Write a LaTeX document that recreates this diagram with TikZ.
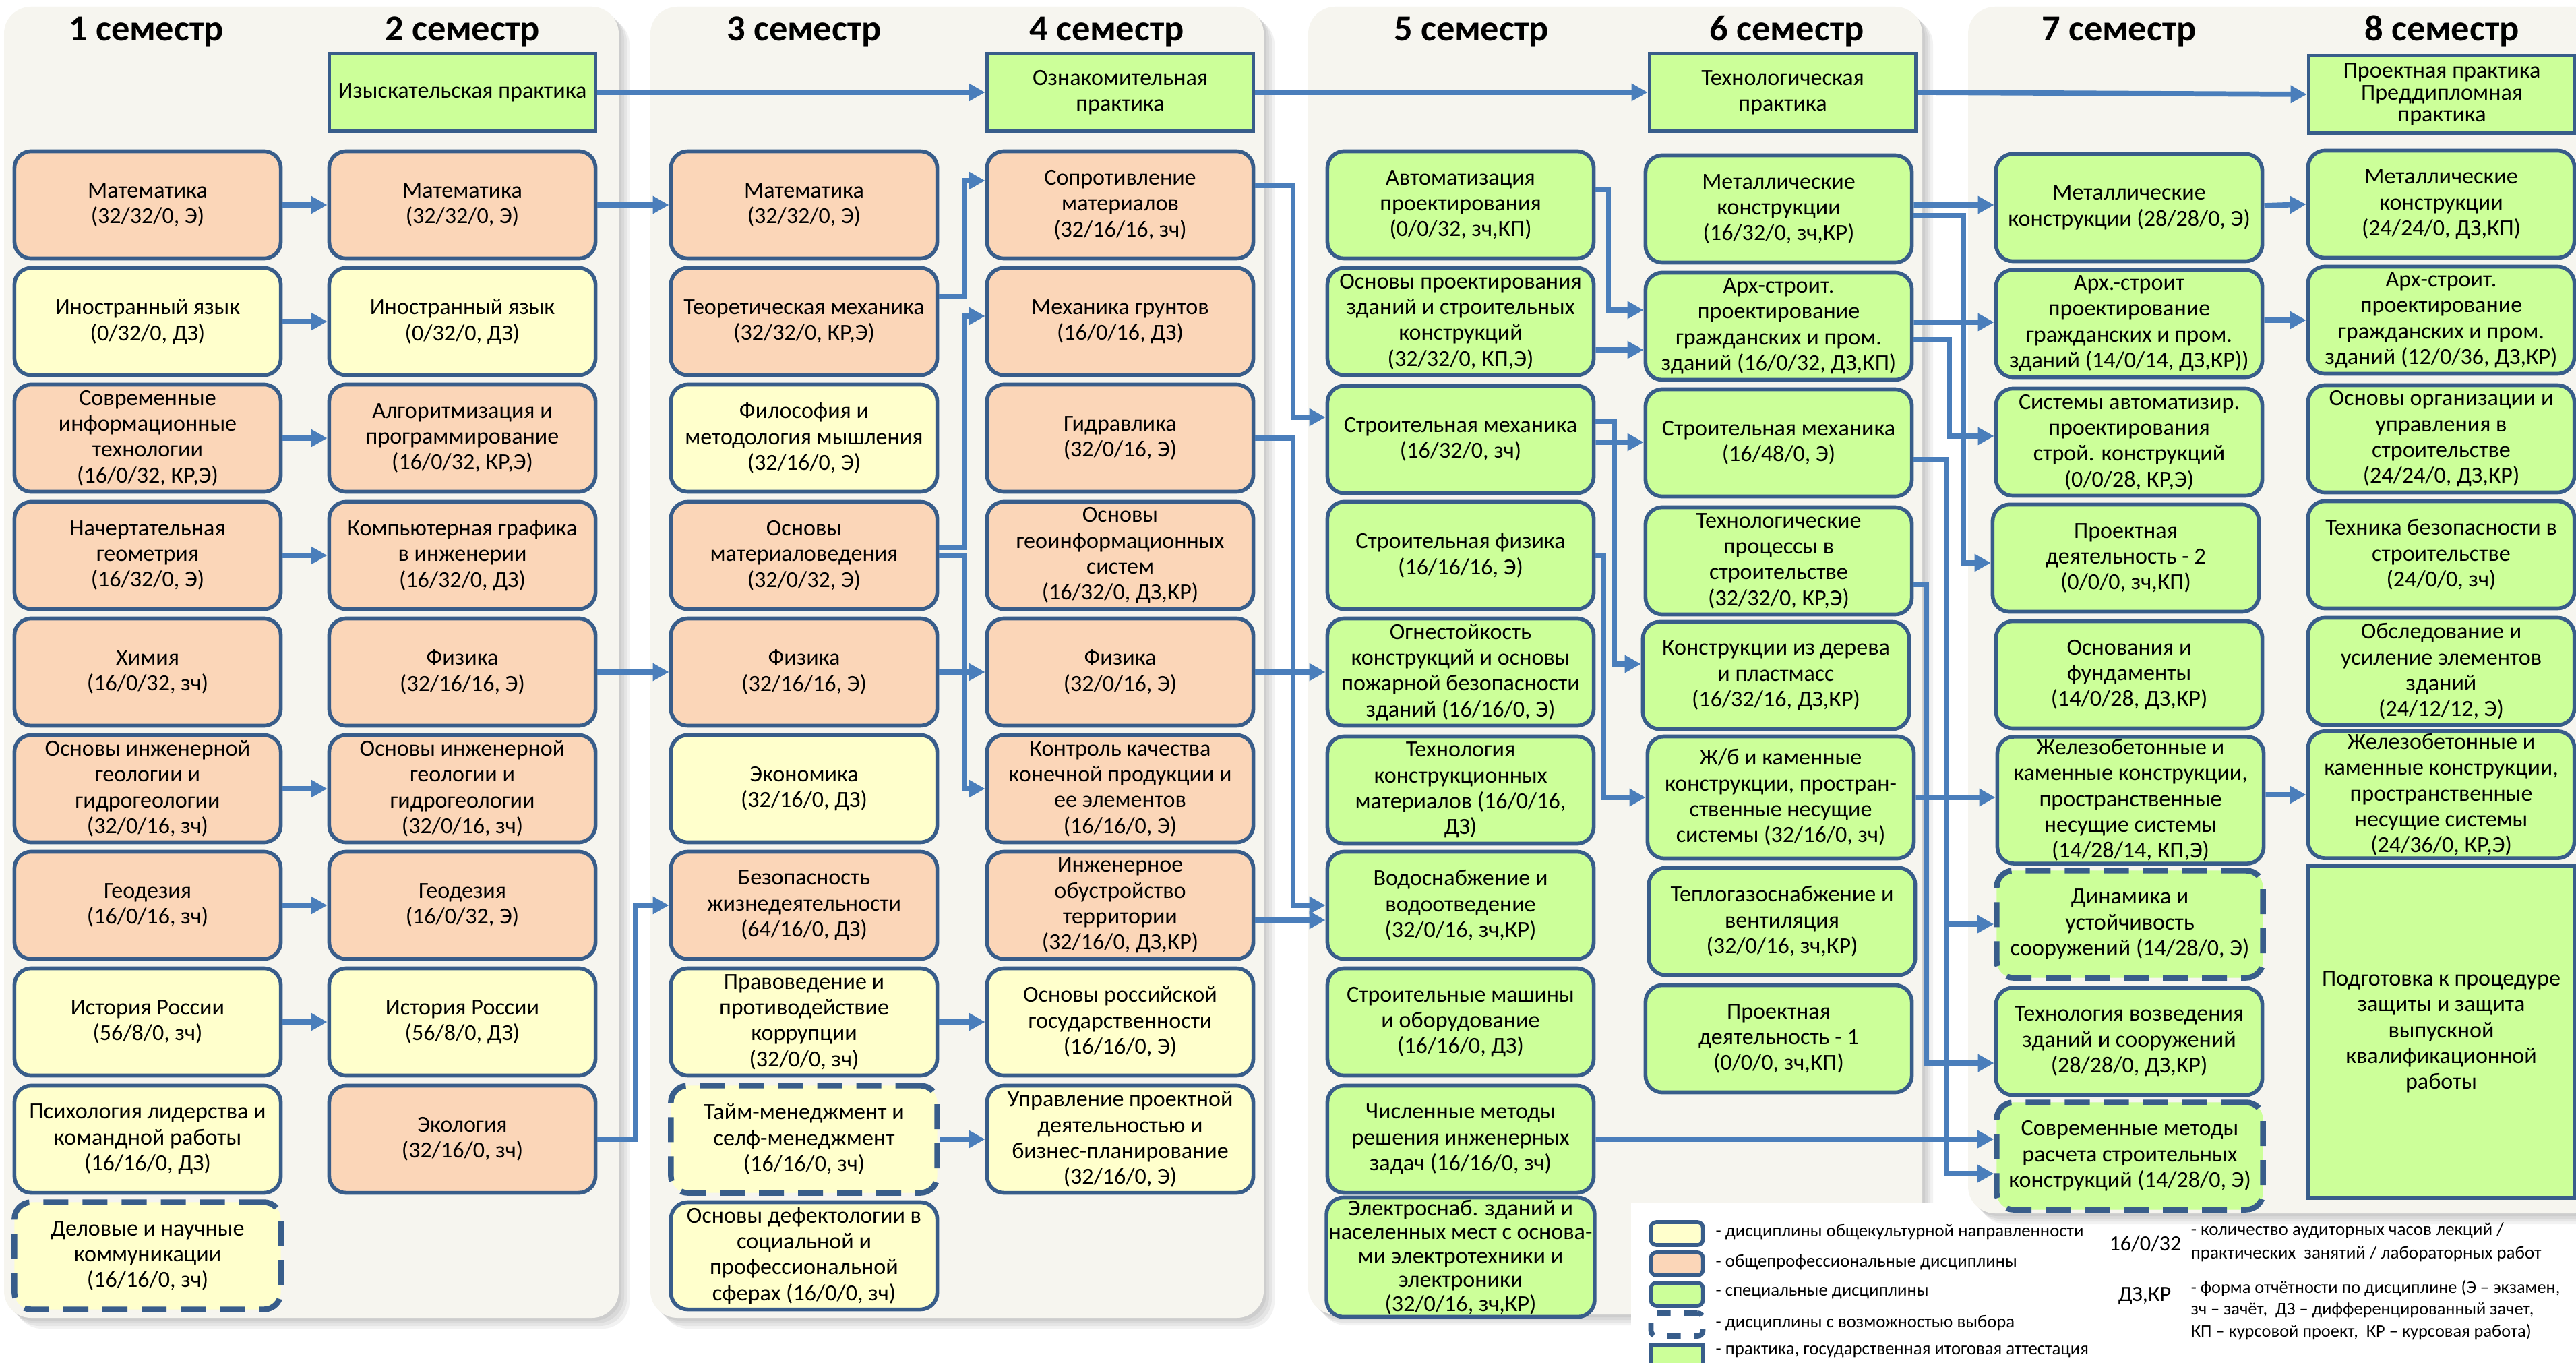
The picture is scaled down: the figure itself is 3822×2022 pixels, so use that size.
\documentclass[tikz,border=0pt]{standalone}
\usepackage{fontspec}
\setmainfont{Carlito}
\usetikzlibrary{arrows.meta}
\definecolor{panelbg}{HTML}{F6F5EF}
\definecolor{peach}{HTML}{FBD6B8}
\definecolor{paleyel}{HTML}{FFFFCC}
\definecolor{lgreen}{HTML}{CCFF99}
\definecolor{edge}{HTML}{385D8A}
\definecolor{link}{HTML}{4A7EBB}
\newcommand{\boxfont}{\fontsize{9.7}{10.9}\selectfont}
\newcommand{\headfont}{\fontsize{15.5}{18}\selectfont\bfseries}
\newcommand{\legfont}{\fontsize{7.6}{10}\selectfont}

\begin{document}
\begin{tikzpicture}[x=0.01cm,y=-0.01cm,
  disc/.style={draw=edge, line width=1.6pt, rounded corners=0.25cm, minimum width=3.95cm, minimum height=1.59cm, align=center, inner sep=1pt, font=\boxfont},
  gen/.style={disc, fill=paleyel},
  prof/.style={disc, fill=peach},
  spec/.style={disc, fill=lgreen},
  choice/.style={line width=2.4pt, dash pattern=on 0.37cm off 0.21cm},
  prac/.style={draw=edge, line width=1.6pt, fill=lgreen, minimum width=3.95cm, minimum height=1.15cm, align=center, inner sep=1pt, font=\boxfont},
  conn/.style={draw=link, line width=2.2pt, -{Triangle[length=0.24cm,width=0.25cm]}},
  sem/.style={font=\headfont, anchor=base},
  panel/.style={fill=panelbg, rounded corners=0.4cm},
  swatch/.style={draw=edge, line width=1.6pt, rounded corners=0.08cm, minimum width=0.77cm, minimum height=0.34cm},
  legtxt/.style={font=\legfont, anchor=west, align=left, inner sep=0pt}]
\useasboundingbox (0,0) rectangle (3822,2022);
\fill[white] (0,0) rectangle (3822,2022);
%panels with shadow
\foreach \s in {4,8,12,16} {
  \fill[black, opacity=0.05, rounded corners=0.4cm] (6+\s,10+\s) rectangle (918+\s,1955+\s);
  \fill[black, opacity=0.05, rounded corners=0.4cm] (965+\s,10+\s) rectangle (1875+\s,1955+\s);
  \fill[black, opacity=0.05, rounded corners=0.4cm] (1941+\s,10+\s) rectangle (2852+\s,1950+\s);
  \fill[black, opacity=0.05, rounded corners=0.4cm] (2920+\s,10+\s) rectangle (3860+\s,1800+\s);
}
\fill[panel] (6,10) rectangle (918,1955);
\fill[panel] (965,10) rectangle (1875,1955);
\fill[panel] (1941,10) rectangle (2852,1950);
\fill[panel] (2920,10) rectangle (3860,1800);
\fill[white] (2420,1785) rectangle (2915,2030);

%semester 1
\node[sem] (s1) at (217,61) {1 семестр};
\node[prof] (a1) at (219,304) {Математика\\(32/32/0, Э)};
\node[gen] (a2) at (219,477) {Иностранный язык\\(0/32/0, ДЗ)};
\node[prof] (a3) at (219,650) {Современные\\информационные\\технологии\\(16/0/32, КР,Э)};
\node[prof] (a4) at (219,824) {Начертательная\\геометрия\\(16/32/0, Э)};
\node[prof] (a5) at (219,997) {Химия\\(16/0/32, зч)};
\node[prof] (a6) at (219,1170) {Основы инженерной\\геологии и\\гидрогеологии\\(32/0/16, зч)};
\node[prof] (a7) at (219,1343) {Геодезия\\(16/0/16, зч)};
\node[gen] (a8) at (219,1516) {История России\\(56/8/0, зч)};
\node[gen] (a9) at (219,1690) {Психология лидерства и\\командной работы\\(16/16/0, ДЗ)};
\node[gen, choice] (a10) at (219,1863) {Деловые и научные\\коммуникации\\(16/16/0, зч)};

%semester 2
\node[sem] (s2) at (686,61) {2 семестр};
\node[prac] (p2) at (686,137) {Изыскательская практика};
\node[prof] (b1) at (686,304) {Математика\\(32/32/0, Э)};
\node[gen] (b2) at (686,477) {Иностранный язык\\(0/32/0, ДЗ)};
\node[prof] (b3) at (686,650) {Алгоритмизация и\\программирование\\(16/0/32, КР,Э)};
\node[prof] (b4) at (686,824) {Компьютерная графика\\в инженерии\\(16/32/0, ДЗ)};
\node[prof] (b5) at (686,997) {Физика\\(32/16/16, Э)};
\node[prof] (b6) at (686,1170) {Основы инженерной\\геологии и\\гидрогеологии\\(32/0/16, зч)};
\node[prof] (b7) at (686,1343) {Геодезия\\(16/0/32, Э)};
\node[gen] (b8) at (686,1516) {История России\\(56/8/0, ДЗ)};
\node[prof] (b9) at (686,1690) {Экология\\(32/16/0, зч)};

%semester 3
\node[sem] (s3) at (1193,61) {3 семестр};
\node[prof] (c1) at (1193,304) {Математика\\(32/32/0, Э)};
\node[prof] (c2) at (1193,477) {Теоретическая механика\\(32/32/0, КР,Э)};
\node[gen] (c3) at (1193,650) {Философия и\\методология мышления\\(32/16/0, Э)};
\node[prof] (c4) at (1193,824) {Основы\\материаловедения\\(32/0/32, Э)};
\node[prof] (c5) at (1193,997) {Физика\\(32/16/16, Э)};
\node[gen] (c6) at (1193,1170) {Экономика\\(32/16/0, ДЗ)};
\node[prof] (c7) at (1193,1343) {Безопасность\\жизнедеятельности\\(64/16/0, ДЗ)};
\node[gen] (c8) at (1193,1516) {Правоведение и\\противодействие\\коррупции\\(32/0/0, зч)};
\node[gen, choice] (c9) at (1193,1690) {Тайм-менеджмент и\\селф-менеджмент\\(16/16/0, зч)};
\node[gen] (c10) at (1193,1863) {Основы дефектологии в\\социальной и\\профессиональной\\сферах (16/0/0, зч)};

%semester 4
\node[sem] (s4) at (1642,61) {4 семестр};
\node[prac] (p4) at (1662,137) {Ознакомительная\\практика};
\node[prof] (d1) at (1662,304) {Сопротивление\\материалов\\(32/16/16, зч)};
\node[prof] (d2) at (1662,477) {Механика грунтов\\(16/0/16, ДЗ)};
\node[prof] (d3) at (1662,650) {Гидравлика\\(32/0/16, Э)};
\node[prof] (d4) at (1662,824) {Основы\\геоинформационных\\систем\\(16/32/0, ДЗ,КР)};
\node[prof] (d5) at (1662,997) {Физика\\(32/0/16, Э)};
\node[prof] (d6) at (1662,1170) {Контроль качества\\конечной продукции и\\ее элементов\\(16/16/0, Э)};
\node[prof] (d7) at (1662,1343) {Инженерное\\обустройство\\территории\\(32/16/0, ДЗ,КР)};
\node[gen] (d8) at (1662,1516) {Основы российской\\государственности\\(16/16/0, Э)};
\node[gen] (d9) at (1662,1690) {Управление проектной\\деятельностью и\\бизнес-планирование\\(32/16/0, Э)};

%semester 5
\node[sem] (s5) at (2183,61) {5 семестр};
\node[spec] (e1) at (2167,304) {Автоматизация\\проектирования\\(0/0/32, зч,КП)};
\node[spec] (e2) at (2167,477) {Основы проектирования\\зданий и строительных\\конструкций\\(32/32/0, КП,Э)};
\node[spec] (e3) at (2167,652) {Строительная механика\\(16/32/0, зч)};
\node[spec] (e4) at (2167,824) {Строительная физика\\(16/16/16, Э)};
\node[spec] (e5) at (2167,997) {Огнестойкость\\конструкций и основы\\пожарной безопасности\\зданий (16/16/0, Э)};
\node[spec] (e6) at (2167,1172) {Технология\\конструкционных\\материалов (16/0/16,\\ДЗ)};
\node[spec] (e7) at (2167,1343) {Водоснабжение и\\водоотведение\\(32/0/16, зч,КР)};
\node[spec] (e8) at (2167,1516) {Строительные машины\\и оборудование\\(16/16/0, ДЗ)};
\node[spec] (e9) at (2167,1690) {Численные методы\\решения инженерных\\задач (16/16/0, зч)};
\node[spec, minimum height=1.66cm, font=\fontsize{9.7}{10.1}\selectfont] (e10) at (2167,1865) {Электроснаб. зданий и\\населенных мест с основа-\\ми электротехники и\\электроники\\(32/0/16, зч,КР)};

%semester 6
\node[sem] (s6) at (2651,61) {6 семестр};
\node[prac] (p6) at (2645,137) {Технологическая\\практика};
\node[spec] (f1) at (2639,310) {Металлические\\конструкции\\(16/32/0, зч,КР)};
\node[spec] (f2) at (2639,484) {Арх-строит.\\проектирование\\гражданских и пром.\\зданий (16/0/32, ДЗ,КП)};
\node[spec] (f3) at (2639,657) {Строительная механика\\(16/48/0, Э)};
\node[spec] (f4) at (2639,832) {Технологические\\процессы в\\строительстве\\(32/32/0, КР,Э)};
\node[spec] (f5) at (2635,1002) {Конструкции из дерева\\и пластмасс\\(16/32/16, ДЗ,КР)};
\node[spec, minimum height=1.81cm] (f6) at (2642,1183) {Ж/б и каменные\\конструкции, простран-\\ственные несущие\\системы (32/16/0, зч)};
\node[spec] (f7) at (2644,1367) {Теплогазоснабжение и\\вентиляция\\(32/0/16, зч,КР)};
\node[spec] (f8) at (2639,1541) {Проектная\\деятельность - 1\\(0/0/0, зч,КП)};

%semester 7
\node[sem] (s7) at (3144,61) {7 семестр};
\node[spec] (g1) at (3159,308) {Металлические\\конструкции (28/28/0, Э)};
\node[spec] (g2) at (3159,480) {Арх.-строит\\проектирование\\гражданских и пром.\\зданий (14/0/14, ДЗ,КР))};
\node[spec] (g3) at (3159,656) {Системы автоматизир.\\проектирования\\строй. конструкций\\(0/0/28, КР,Э)};
\node[spec] (g4) at (3154,828) {Проектная\\деятельность - 2\\(0/0/0, зч,КП)};
\node[spec] (g5) at (3159,1001) {Основания и\\фундаменты\\(14/0/28, ДЗ,КР)};
\node[spec, minimum height=1.85cm] (g6) at (3161,1187) {Железобетонные и\\каменные конструкции,\\пространственные\\несущие системы\\(14/28/14, КП,Э)};
\node[spec, choice] (g7) at (3160,1371) {Динамика и\\устойчивость\\сооружений (14/28/0, Э)};
\node[spec] (g8) at (3159,1545) {Технология возведения\\зданий и сооружений\\(28/28/0, ДЗ,КР)};
\node[spec, choice] (g9) at (3160,1715) {Современные методы\\расчета строительных\\конструкций (14/28/0, Э)};

%semester 8
\node[sem] (s8) at (3623,61) {8 семестр};
\node[prac, font=\fontsize{9.7}{9.2}\selectfont] (p8) at (3623,140) {Проектная практика\\Преддипломная\\практика};
\node[spec] (h1) at (3622,303) {Металлические\\конструкции\\(24/24/0, ДЗ,КП)};
\node[spec] (h2) at (3622,475) {Арх-строит.\\проектирование\\гражданских и пром.\\зданий (12/0/36, ДЗ,КР)};
\node[spec] (h3) at (3622,651) {Основы организации и\\управления в\\строительстве\\(24/24/0, ДЗ,КР)};
\node[spec] (h4) at (3622,823) {Техника безопасности в\\строительстве\\(24/0/0, зч)};
\node[spec] (h5) at (3622,996) {Обследование и\\усиление элементов\\зданий\\(24/12/12, Э)};
\node[spec, minimum height=1.86cm] (h6) at (3622,1179) {Железобетонные и\\каменные конструкции,\\пространственные\\несущие системы\\(24/36/0, КР,Э)};
\node[prac, minimum height=4.92cm] (h7) at (3622,1531) {Подготовка к процедуре\\защиты и защита\\выпускной\\квалификационной\\работы};

%practice chain
\draw[conn] (p2) -- (p4);
\draw[conn] (p4) -- (p6);
\draw[conn] (p6.east) -- (p8.west);
%1 -> 2
\draw[conn] (a1) -- (b1);
\draw[conn] (a2) -- (b2);
\draw[conn] (a3) -- (b3);
\draw[conn] (a4) -- (b4);
\draw[conn] (a6) -- (b6);
\draw[conn] (a7) -- (b7);
\draw[conn] (a8) -- (b8);
%2 -> 3
\draw[conn] (b1) -- (c1);
\draw[conn] (b5) -- (c5);
\draw[conn] (b9.east) -- ++(56,0) |- (c7.west);
%3 -> 4
\draw[conn] ([yshift=3.7mm]c2.east) -- ++(38,0) |- ([yshift=3.6mm]d1.west);
\draw[conn] ([yshift=1.2mm]c4.east) -- ++(38,0) |- ([yshift=0.8mm]d2.west);
\draw[conn] (c4.east) -- ++(38,0) |- (d6.west);
\draw[conn] (c5) -- (d5);
\draw[conn] (c8) -- (d8);
\draw[conn] (c9) -- (d9);
%4 -> 5
\draw[conn] ([yshift=2.9mm]d1.east) -- ++(56,0) |- ([yshift=3.3mm]e3.west);
\draw[conn] (d3.east) -- ++(56,0) |- (e7.west);
\draw[conn] (d5) -- (e5);
\draw[conn] ([yshift=-2.2mm]d7.east) -- ([yshift=-2.2mm]e7.west);
%5 -> 6
\draw[conn] ([yshift=2.3mm]e1.east) -- ++(19,0) |- ([yshift=2.4mm]f2.west);
\draw[conn] ([yshift=-4.2mm]e2.east) -- ([yshift=-3.5mm]f2.west);
\draw[conn] ([yshift=-0.4mm]e3.east) -- ([yshift=0.1mm]f3.west);
\draw[conn] ([yshift=2.7mm]e3.east) -- ++(28,0) |- ([yshift=1.7mm]f5.west);
\draw[conn] (e4.east) -- ++(12,0) |- (f6.west);
%6 -> 7
\draw[conn] ([yshift=0.6mm]f1.east) -- ([yshift=0.4mm]g1.west);
\draw[conn] ([yshift=-1mm]f1.east) -- ++(74,0) |- ([yshift=-0.7mm]g4.west);
\draw[conn] ([yshift=0.6mm]f2.east) -- ([yshift=0.2mm]g2.west);
\draw[conn] ([yshift=-2mm]f2.east) -- ++(53,0) |- ([yshift=0.9mm]g3.west);
\draw[conn] ([yshift=-2.5mm]f3.east) -- ++(48,0) |- (g7.west);
\draw[conn] ([yshift=-2.5mm]f3.east) -- ++(48,0) |- ([yshift=-2.6mm]g9.west);
\draw[conn] ([yshift=-3.5mm]f4.east) -- ++(19,0) |- ([yshift=-3.2mm]g8.west);
\draw[conn] (f6.east) -- ([yshift=0.4mm]g6.west);
\draw[conn] (e9.east) -- ([yshift=2.5mm]g9.west);
%7 -> 8
\draw[conn] ([yshift=0.3mm]g1.east) -- (h1.west);
\draw[conn] ([yshift=0.5mm]g2.east) -- (h2.west);
\draw[conn] ([yshift=0.8mm]g6.east) -- (h6.west);

%legend
\node[swatch, fill=paleyel] (k1) at (2488,1830) {};
\node[swatch, fill=peach] (k2) at (2488,1875) {};
\node[swatch, fill=lgreen] (k3) at (2488,1920) {};
\node[swatch, fill=white, line width=2.2pt, dash pattern=on 0.2cm off 0.2cm] (k4) at (2488,1965) {};
\node[swatch, fill=lgreen, rounded corners=0pt] (k5) at (2488,2012) {};
\node[legtxt] (t1) at (2545,1828) {- дисциплины общекультурной направленности};
\node[legtxt] (t2) at (2545,1873) {- общепрофессиональные дисциплины};
\node[legtxt] (t3) at (2545,1918) {- специальные дисциплины};
\node[legtxt] (t4) at (2545,1963) {- дисциплины с возможностью выбора};
\node[legtxt] (t5) at (2545,2005) {-\ практика, государственная итоговая аттестация};
\node[font=\fontsize{9.2}{11}\selectfont] (n1) at (3183,1845) {16/0/32};
\node[font=\fontsize{9.2}{11}\selectfont] (n2) at (3182,1923) {ДЗ,КР};
\node[legtxt, font=\fontsize{7.7}{10}\selectfont] (t6) at (3250,1843) {- количество аудиторных часов лекций /\\практических\ \ занятий / лабораторных работ};
\node[legtxt, font=\fontsize{7.5}{9.25}\selectfont] (t7) at (3250,1943) {- форма отчётности по дисциплине (Э – экзамен,\\зч – зачёт,\ \ ДЗ – дифференцированный зачет,\\КП – курсовой проект,\ \ КР – курсовая работа)};
\end{tikzpicture}
\end{document}
